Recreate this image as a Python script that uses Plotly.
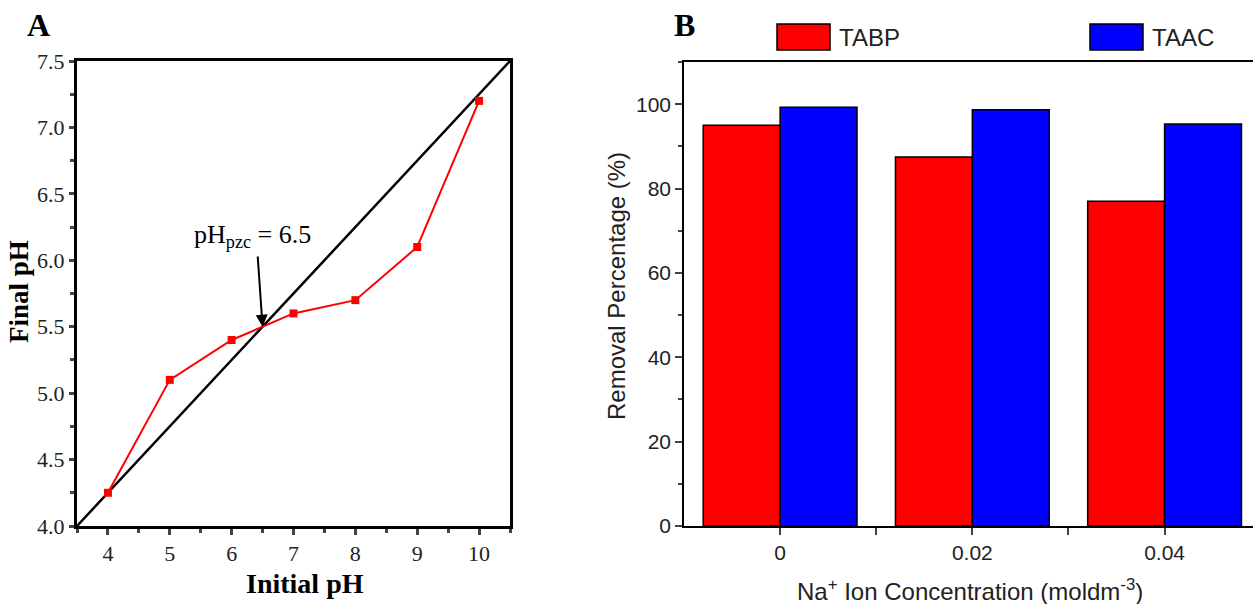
import plotly.graph_objects as go

# Panel A data
initial_ph = [4, 5, 6, 7, 8, 9, 10]
final_ph = [4.25, 5.1, 5.4, 5.6, 5.7, 6.1, 7.2]
diag_x = [3.5, 10.5]
diag_y = [4.0, 7.5]

# Panel B data
conc_labels = ["0", "0.02", "0.04"]
conc_pos = [0, 1, 2]
tabp = [95.0, 87.5, 77.0]
taac = [99.3, 98.7, 95.3]

SERIF = "Liberation Serif, Times New Roman, serif"
SANS = "Liberation Sans, Arial, sans-serif"

fig = go.Figure()

fig.add_trace(go.Scatter(x=diag_x, y=diag_y, mode="lines",
                         line=dict(color="black", width=2.5),
                         xaxis="x", yaxis="y", showlegend=False))
fig.add_trace(go.Scatter(x=initial_ph, y=final_ph, mode="lines+markers",
                         line=dict(color="#ff0000", width=2),
                         marker=dict(symbol="square", size=8, color="#ff0000"),
                         xaxis="x", yaxis="y", showlegend=False))

fig.add_trace(go.Bar(x=[p - 0.2 for p in conc_pos], y=tabp, width=0.4, name="TABP",
                     marker=dict(color="#ff0000", line=dict(color="black", width=1.5)),
                     xaxis="x2", yaxis="y2", showlegend=False))
fig.add_trace(go.Bar(x=[p + 0.2 for p in conc_pos], y=taac, width=0.4, name="TAAC",
                     marker=dict(color="#0000ff", line=dict(color="black", width=1.5)),
                     xaxis="x2", yaxis="y2", showlegend=False))

W, H = 1253, 604
def px(xp):
    return xp / W
def py(yp):
    return 1 - yp / H

fig.update_layout(
    width=W, height=H,
    margin=dict(l=0, r=0, t=0, b=0, autoexpand=False),
    paper_bgcolor="white", plot_bgcolor="white",
    barmode="overlay",
    xaxis=dict(domain=[px(77), px(510)], range=[3.5, 10.5], anchor="y", automargin=False,
               tickvals=initial_ph, ticks="outside", ticklen=6, tickwidth=2.5,
               minor=dict(dtick=0.5, tick0=3.5, ticks="outside", ticklen=4, tickwidth=2.5),
               showline=True, linewidth=3, linecolor="black", mirror=True,
               showgrid=False, zeroline=False,
               tickfont=dict(family=SERIF, size=22, color="#222")),
    yaxis=dict(domain=[py(526), py(61)], range=[4.0, 7.5], anchor="x", automargin=False,
               tickvals=[4.0, 4.5, 5.0, 5.5, 6.0, 6.5, 7.0, 7.5], tickformat=".1f",
               ticks="outside", ticklen=5, tickwidth=2.5,
               minor=dict(dtick=0.25, tick0=4.0, ticks="outside", ticklen=4, tickwidth=2.5),
               showline=True, linewidth=3, linecolor="black", mirror=True,
               showgrid=False, zeroline=False,
               tickfont=dict(family=SERIF, size=22, color="#222")),
    xaxis2=dict(domain=[px(684), 1.0], range=[-0.5, 2.46], anchor="y2", automargin=False,
                tickvals=conc_pos, ticktext=conc_labels,
                ticks="outside", ticklen=7, tickwidth=1.5,
                minor=dict(tickvals=[0.5, 1.5], ticks="outside", ticklen=7, tickwidth=1.5),
                showline=True, linewidth=1.5, linecolor="black", mirror=True,
                showgrid=False, zeroline=False,
                tickfont=dict(family=SANS, size=21, color="#222")),
    yaxis2=dict(domain=[py(526), py(62)], range=[0, 110], anchor="x2", automargin=False,
                tickvals=[0, 20, 40, 60, 80, 100],
                ticks="outside", ticklen=7, tickwidth=1.5,
                minor=dict(dtick=10, tick0=0, ticks="outside", ticklen=4, tickwidth=1.5),
                showline=True, linewidth=1.5, linecolor="black", mirror=True,
                showgrid=False, zeroline=False,
                tickfont=dict(family=SANS, size=21, color="#222")),
)

def label(x, y, text, font, angle=0, xanchor="center"):
    fig.add_annotation(x=px(x), y=py(y), xref="paper", yref="paper", text=text,
                       showarrow=False, font=font, textangle=angle,
                       xanchor=xanchor, yanchor="middle")

# Axis titles
label(305, 583, "<b>Initial pH</b>", dict(family=SERIF, size=28, color="black"))
label(19, 292, "<b>Final pH</b>", dict(family=SERIF, size=27, color="black"), angle=-90)
label(970, 590, "Na<sup>+</sup> Ion Concentration (moldm<sup>-3</sup>)",
      dict(family=SANS, size=24, color="#222"))
label(616, 286, "Removal Percentage (%)", dict(family=SANS, size=24, color="#222"), angle=-90)

# Panel labels
label(38, 25, "<b>A</b>", dict(family=SERIF, size=32, color="black"))
label(684, 25, "<b>B</b>", dict(family=SERIF, size=32, color="black"))

# pHpzc annotation
label(252, 236, "pH<sub>pzc</sub> = 6.5", dict(family=SERIF, size=26, color="black"))
fig.add_annotation(x=6.5, y=5.5, ax=6.42, ay=6.04, xref="x", yref="y", axref="x", ayref="y",
                   text="", showarrow=True, arrowhead=2, arrowsize=1.2, arrowwidth=2,
                   arrowcolor="black", standoff=0)

# Legend boxes for panel B
legend_items = [("TABP", "#ff0000", 777), ("TAAC", "#0000ff", 1090)]
for name, col, x0 in legend_items:
    fig.add_shape(type="rect", xref="paper", yref="paper",
                  x0=px(x0), x1=px(x0 + 53), y0=py(50), y1=py(24),
                  fillcolor=col, line=dict(color="black", width=1.5))
    label(x0 + 60, 37, name, dict(family=SANS, size=24, color="#222"), xanchor="left")

fig.write_html("out.html")
